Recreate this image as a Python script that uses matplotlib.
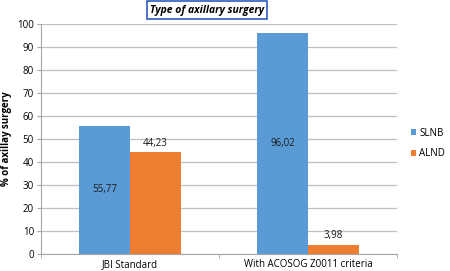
import matplotlib.pyplot as plt
import numpy as np

categories = ["JBI Standard", "With ACOSOG Z0011 criteria"]
slnb = [55.77, 96.02]
alnd = [44.23, 3.98]
slnb_labels = ["55,77", "96,02"]
alnd_labels = ["44,23", "3,98"]

plt.rcParams['font.family'] = ['Open Sans', 'DejaVu Sans']

fig = plt.figure(figsize=(4.5, 2.71), dpi=100)
ax = fig.add_axes([0.091, 0.063, 0.791, 0.848])

x = np.arange(len(categories))
w = 0.285
b1 = ax.bar(x - w / 2, slnb, w, color="#5B9BD5", label="SLNB", zorder=3)
b2 = ax.bar(x + w / 2, alnd, w, color="#ED7D31", label="ALND", zorder=3)

# labels: SLNB in the middle of the bar, ALND just above it
for rect, txt in zip(b1, slnb_labels):
    ax.text(rect.get_x() + rect.get_width() / 2, rect.get_height() / 2, txt,
            ha="center", va="center", fontsize=7, color="#1a1a1a", zorder=4)
for rect, txt in zip(b2, alnd_labels):
    ax.text(rect.get_x() + rect.get_width() / 2, rect.get_height() + 4, txt,
            ha="center", va="center", fontsize=7, color="#1a1a1a", zorder=4)

ax.set_xlim(-0.5, 1.5)
ax.set_ylim(0, 100)
ax.set_yticks(range(0, 101, 10))
ax.yaxis.grid(True, color="#BFBFBF", linewidth=0.9, zorder=0)
ax.set_xticks(x)
ax.set_xticklabels(categories)
ax.set_xticks([-0.5, 0.5, 1.5], minor=True)
ax.tick_params(axis="x", which="major", length=0, labelsize=7, pad=4)
ax.tick_params(axis="x", which="minor", length=3, color="#A6A6A6")
ax.tick_params(axis="y", length=3, color="#A6A6A6", labelsize=7, pad=2)

for s in ["top", "right"]:
    ax.spines[s].set_visible(False)
for s in ["left", "bottom"]:
    ax.spines[s].set_color("#A6A6A6")

ax.set_ylabel("% of axillay surgery", fontsize=7, fontweight="bold", labelpad=4)

fig.text(0.46, 0.963, "Type of axillary surgery", ha="center", va="center",
         fontsize=7.5, fontweight="bold", fontstyle="italic",
         bbox=dict(boxstyle="square,pad=0.3", facecolor="white",
                   edgecolor="#2E5DB8", linewidth=1.2))

ax.legend(loc="center left", bbox_to_anchor=(1.04, 0.48), frameon=False,
          fontsize=7, handlelength=0.55, handleheight=0.55, handletextpad=0.3,
          labelspacing=1.0, borderaxespad=0, borderpad=0)

fig.savefig("out.png", dpi=100)
